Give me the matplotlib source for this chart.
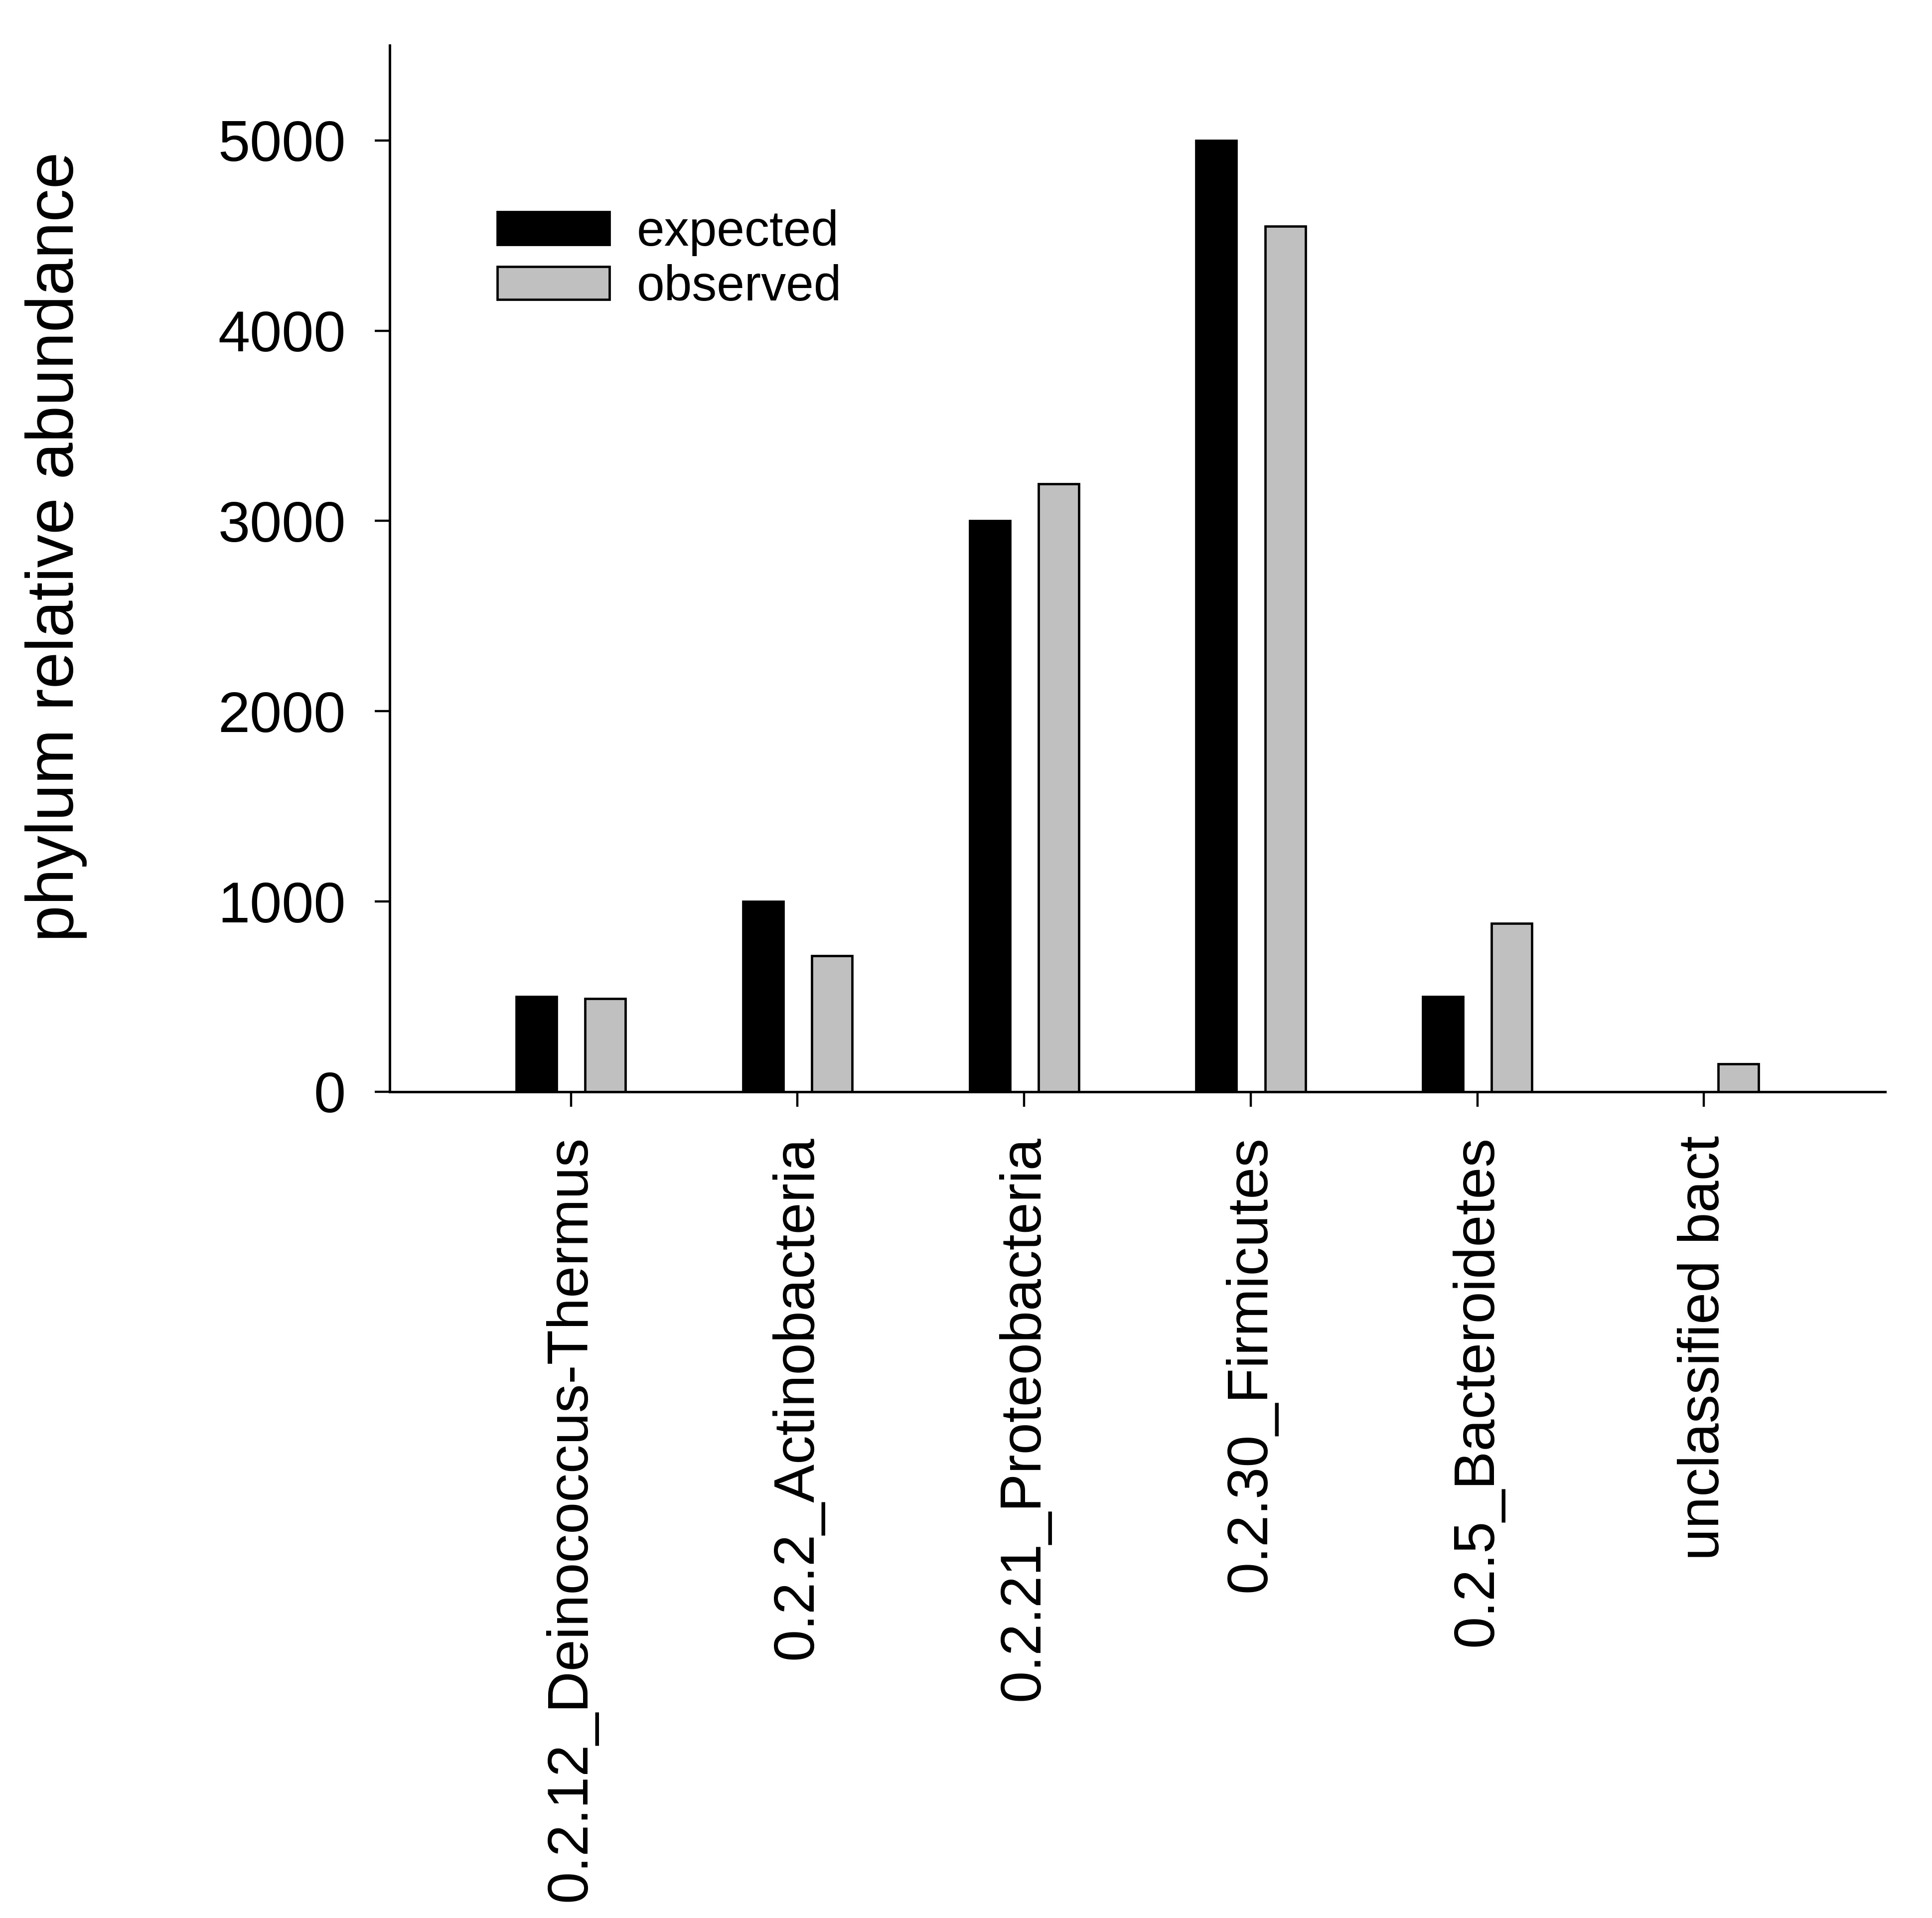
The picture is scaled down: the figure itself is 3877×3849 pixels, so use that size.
import matplotlib
matplotlib.use("Agg")
import matplotlib.pyplot as plt
import numpy as np

categories = ["0.2.12_Deinococcus-Thermus", "0.2.2_Actinobacteria", "0.2.21_Proteobacteria",
              "0.2.30_Firmicutes", "0.2.5_Bacteroidetes", "unclassified bact"]
expected = [500, 1000, 3000, 5000, 500, 0]
observed = [490, 715, 3195, 4550, 885, 145]
series_names = ["expected", "observed"]
y_ticks = [0, 1000, 2000, 3000, 4000, 5000]

plt.rcParams['font.family'] = ['Liberation Sans', 'DejaVu Sans']

fig = plt.figure(figsize=(38.77, 38.49), dpi=100)
ax = fig.add_axes([0.2017, 0.4308, 0.9758 - 0.2017, 0.9764 - 0.4308])

x = np.arange(len(categories))
w = 0.178
off = 0.152
lw = 3.4
b1 = ax.bar(x - off, expected, width=w, color="black", edgecolor="black", linewidth=lw,
            label=series_names[0], zorder=2)
b2 = ax.bar(x + off, observed, width=w, color="#c0c0c0", edgecolor="black", linewidth=lw,
            label=series_names[1], zorder=2)

ax.set_xlim(-0.80, 5.80)
ax.set_ylim(0, 5500)
ax.set_yticks(y_ticks)
ax.set_yticklabels([str(v) for v in y_ticks], fontsize=83)
ax.set_xticks(x)
ax.set_xticklabels(categories, rotation=90, fontsize=83, ha="center", va="top")

for s in ["top", "right"]:
    ax.spines[s].set_visible(False)
for s in ["left", "bottom"]:
    ax.spines[s].set_linewidth(3.6)
ax.tick_params(axis="both", direction="out", length=21.5, width=3.2, pad=42, color="black")

fig.text(0.0289, 0.7150, "phylum relative abundance", rotation=90, fontsize=95.5,
         ha="center", va="center")

leg = ax.legend(handles=[b1, b2], loc="upper left", bbox_to_anchor=(0.2573, 0.8909),
                bbox_transform=fig.transFigure, frameon=False, fontsize=72,
                handlelength=2.25, handleheight=0.64, handletextpad=0.55,
                labelspacing=0.16, borderpad=0, borderaxespad=0)

fig.savefig("out.png", dpi=100, facecolor="white")
